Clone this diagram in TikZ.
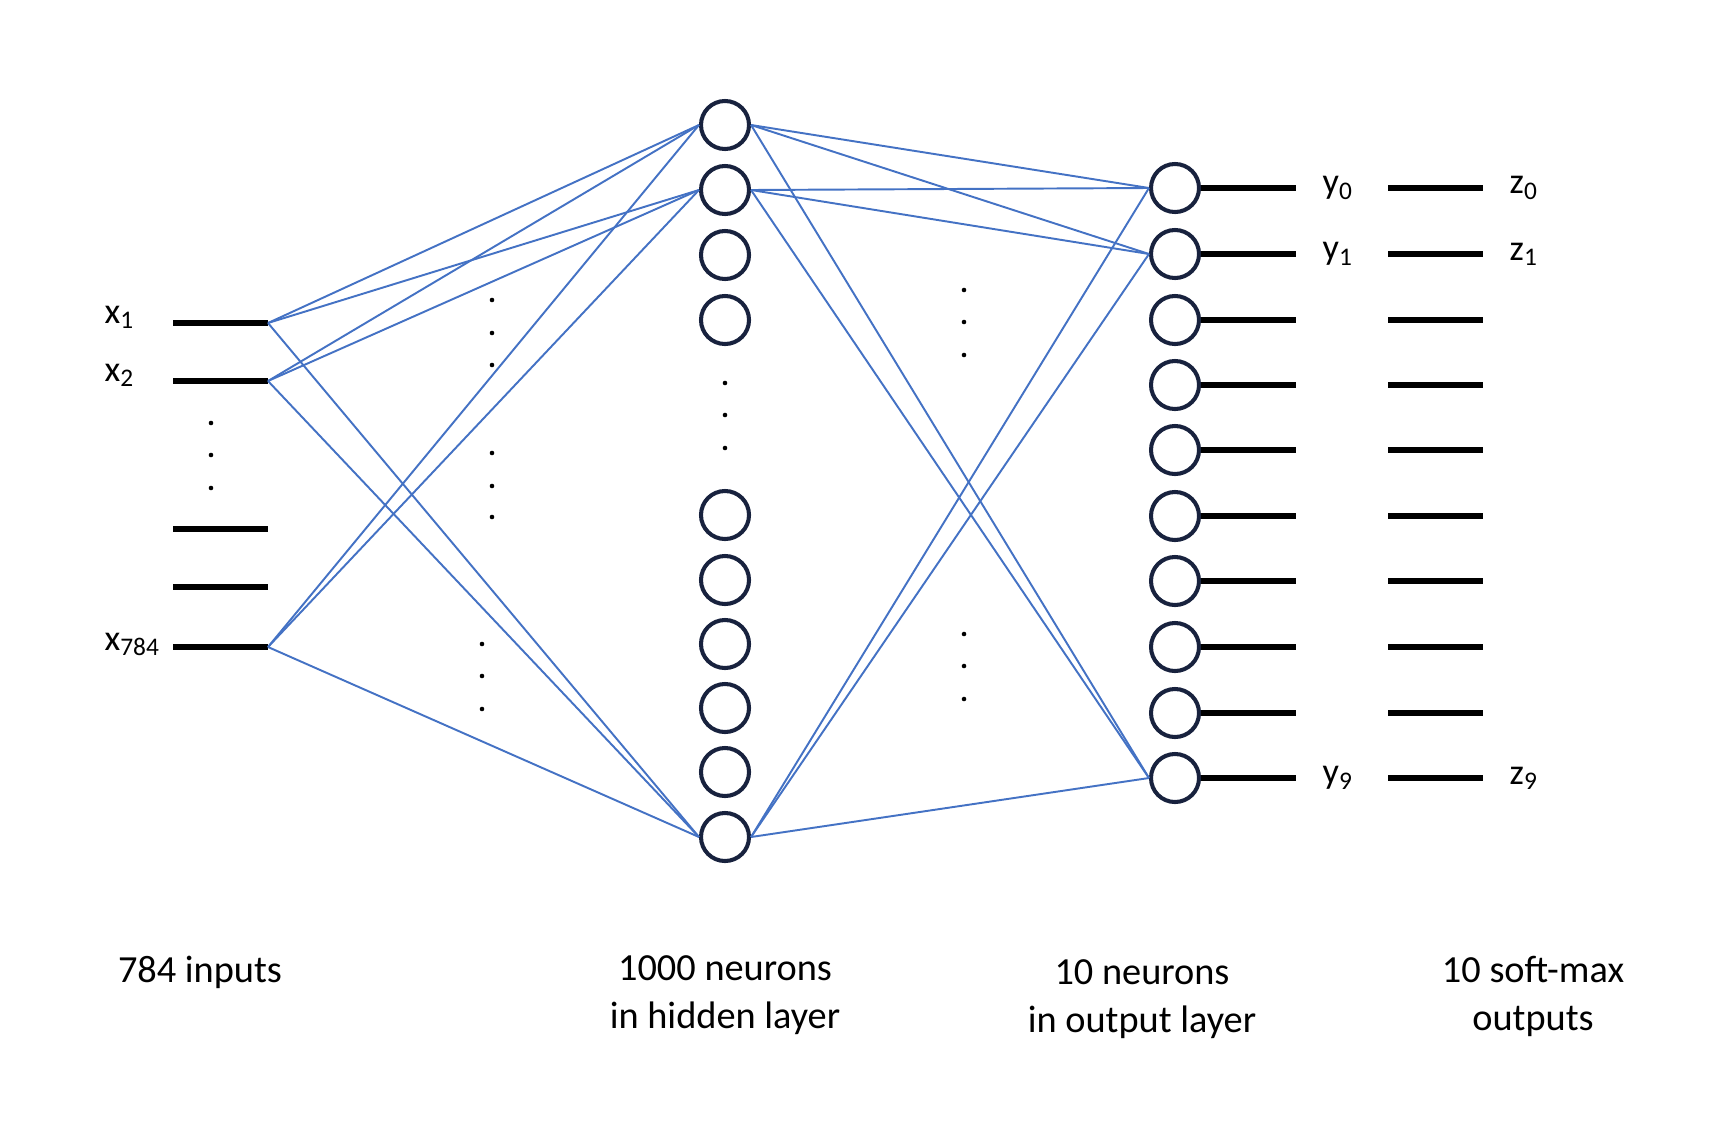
\documentclass[tikz,border=0pt]{standalone}
\usepackage{fontspec}
\setmainfont{Carlito}
\usepackage{xcolor}
\usetikzlibrary{positioning}
\definecolor{navy}{RGB}{24,34,62}
\definecolor{linkblue}{RGB}{68,114,196}

\begin{document}
\begin{tikzpicture}[
x=0.01cm, y=-0.01cm,
neuron/.style={draw=navy, line width=1.15pt, circle, minimum size=0.48cm, inner sep=0pt},
wire/.style={line width=1.7pt, black},
link/.style={draw=linkblue, line width=0.55pt},
var/.style={font=\fontsize{10.3}{12}\selectfont, inner sep=0pt},
caption/.style={font=\fontsize{10.9}{13.7}\selectfont, align=center, anchor=north, inner sep=0pt},
vdots/.style={fill=black}
]
\useasboundingbox (0,0) rectangle (1713,1121);

% inputs
\foreach \i/\y in {1/323, 2/381, 3/529, 4/587, 5/647} {
  \coordinate (xs\i) at (173,\y);
  \coordinate (xe\i) at (268,\y);
  \draw[wire] (xs\i) -- (xe\i);
}
\node[var, anchor=base west] (lx1) at (104,323) {x\textsubscript{1}};
\node[var, anchor=base west] (lx2) at (104,381) {x\textsubscript{2}};
\node[var, anchor=base west] (lx5) at (104,650) {x\textsubscript{784}};

% hidden layer
\foreach \j/\y in {1/125, 2/190, 3/255, 4/320, 5/515, 6/580, 7/644, 8/708, 9/772, 10/837}
  \node[neuron] (h\j) at (725,\y) {};

% output layer
\foreach \k/\y in {1/188, 2/254, 3/320, 4/385, 5/450, 6/516, 7/581, 8/647, 9/713, 10/778} {
  \node[neuron] (o\k) at (1175,\y) {};
  \coordinate (oe\k) at (1296,\y);
  \draw[wire] (o\k.east) -- (oe\k);
  \coordinate (zs\k) at (1388,\y);
  \coordinate (ze\k) at (1483,\y);
  \draw[wire] (zs\k) -- (ze\k);
}
\node[var, anchor=mid west, right=26 of oe1] (ly0) {y\textsubscript{0}};
\node[var, anchor=mid west, right=26 of oe2] (ly1) {y\textsubscript{1}};
\node[var, anchor=mid west, right=26 of oe10] (ly9) {y\textsubscript{9}};
\node[var, anchor=mid west, right=26 of ze1] (lz0) {z\textsubscript{0}};
\node[var, anchor=mid west, right=26 of ze2] (lz1) {z\textsubscript{1}};
\node[var, anchor=mid west, right=26 of ze10] (lz9) {z\textsubscript{9}};

% connections
\foreach \i in {1,2,5}
  \foreach \j in {1,2,10}
    \draw[link] (xe\i) -- (h\j.west);
\foreach \j in {1,2,10}
  \foreach \k in {1,2,10}
    \draw[link] (h\j.east) -- (o\k.west);

% ellipsis dots
\foreach \x/\y in {211/423, 211/455, 211/488,
                   492/300, 492/333, 492/365, 492/453, 492/486, 492/517,
                   482/644, 482/676, 482/709,
                   725/383, 725/415, 725/448,
                   964/290, 964/322, 964/355, 964/634, 964/666, 964/699}
  \fill[vdots] (\x,\y) circle[radius=0.65pt];

% captions
\node[caption] (cin) at (200,955) {784 inputs};
\node[caption] (chid) at (725,955) {1000 neurons\\in hidden layer};
\node[caption] (cout) at (1142,959) {10 neurons\\in output layer};
\node[caption] (csm) at (1533,955) {10 soft-max\\outputs};
\end{tikzpicture}
\end{document}
